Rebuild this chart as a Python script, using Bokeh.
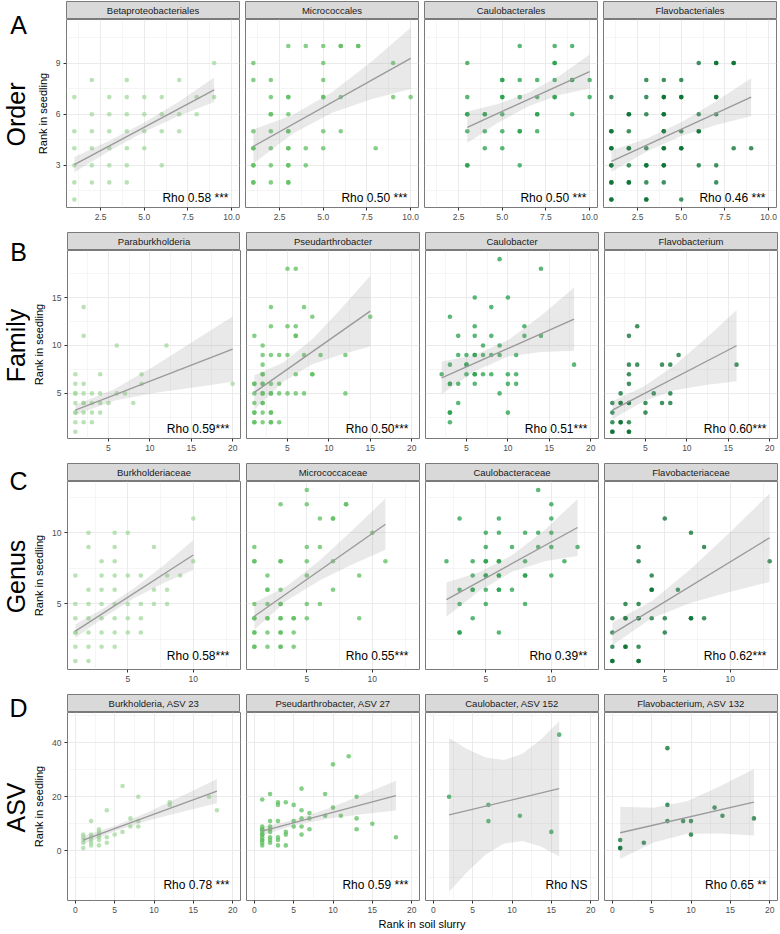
from bokeh.plotting import figure
from bokeh.layouts import row, column
from bokeh.models import ColumnDataSource, Range1d, FixedTicker, Label, NumeralTickFormatter
from bokeh.core.validation import silence
from bokeh.core.validation.warnings import MISSING_RENDERERS
from bokeh.embed import file_html
from bokeh.resources import INLINE
import math

silence(MISSING_RENDERERS, True)

FONT = "Liberation Sans"

# ---------------- data: Order (row A) ----------------
ord_beta_x = [9, 2, 4, 7, 1, 3, 4, 5, 6, 8, 9, 2, 3, 4, 5, 6, 7, 8, 1, 2, 3, 4, 5, 6, 7, 1, 2, 3, 4, 5, 1, 2, 3, 4, 6, 1, 2, 3, 4, 1]
ord_beta_y = [9, 8, 8, 8, 7, 7, 7, 7, 7, 7, 7, 6, 6, 6, 6, 6, 6, 6, 5, 5, 5, 5, 5, 5, 5, 4, 4, 4, 4, 4, 3, 3, 3, 3, 3, 2, 2, 2, 2, 1]
ord_micro_x = [3, 4, 5, 6, 7, 6, 7, 1, 5, 9, 1, 2, 5, 2, 3, 5, 6, 9, 10, 3, 5, 2, 3, 2, 1, 2, 3, 5, 6, 3, 1, 2, 3, 4, 5, 8, 1, 3, 1, 2, 3, 4, 1, 3, 1, 2, 3, 1, 3]
ord_micro_y = [10, 10, 10, 10, 10, 10, 10, 9, 9, 9, 8, 8, 8, 7, 7, 7, 7, 7, 7, 7, 7, 6, 6, 6, 5, 5, 5, 5, 5, 5, 4, 4, 4, 4, 4, 4, 4, 4, 3, 3, 3, 3, 3, 3, 2, 2, 2, 2, 2]
ord_caulo_x = [6, 8, 9, 3, 8, 8, 5, 6, 7, 8, 9, 10, 5, 9, 3, 5, 6, 7, 8, 10, 5, 8, 3, 4, 5, 7, 9, 3, 4, 7, 3, 4, 5, 6, 7, 6, 4, 5, 3, 6, 3]
ord_caulo_y = [10, 10, 10, 9, 9, 9, 8, 8, 8, 8, 8, 8, 8, 8, 7, 7, 7, 7, 7, 7, 7, 7, 6, 6, 6, 6, 6, 6, 6, 6, 5, 5, 5, 5, 5, 5, 4, 4, 3, 3, 3]
ord_flavo_x = [6, 7, 8, 7, 8, 3, 4, 5, 1, 3, 4, 5, 7, 4, 5, 7, 2, 3, 4, 6, 7, 2, 4, 1, 2, 4, 5, 6, 1, 4, 6, 1, 2, 3, 4, 5, 8, 9, 1, 2, 4, 5, 1, 2, 3, 4, 6, 7, 1, 3, 4, 1, 2, 3, 4, 7, 1, 2, 1, 3, 5, 1, 3]
ord_flavo_y = [9, 9, 9, 9, 9, 8, 8, 8, 7, 7, 7, 7, 7, 7, 7, 7, 6, 6, 6, 6, 6, 6, 6, 5, 5, 5, 5, 5, 5, 5, 5, 4, 4, 4, 4, 4, 4, 4, 4, 4, 4, 4, 3, 3, 3, 3, 3, 3, 3, 3, 3, 2, 2, 2, 2, 2, 2, 2, 1, 1, 1, 1, 1]

# ---------------- data: Family (row B) ----------------
fam_para_x = [2, 2, 6, 12, 1, 4, 9, 1, 2, 9, 20, 1, 2, 3, 4, 6, 7, 1, 1, 2, 3, 4, 5, 8, 2, 1, 2, 3, 4, 1, 1, 2, 3, 1]
fam_para_y = [14, 11, 10, 10, 7, 7, 7, 6, 6, 6, 6, 5, 5, 5, 5, 5, 5, 5, 4, 4, 4, 4, 4, 4, 4, 3, 3, 3, 3, 3, 2, 2, 2, 1]
fam_pseud_x = [5, 6, 3, 7, 8, 15, 3, 5, 6, 1, 6, 6, 2, 2, 3, 4, 5, 7, 9, 12, 2, 2, 6, 8, 8, 2, 1, 2, 3, 4, 1, 2, 1, 2, 3, 4, 5, 6, 7, 12, 2, 3, 1, 2, 2, 1, 2, 3, 1, 3, 1, 2, 3, 4, 1, 3]
fam_pseud_y = [18, 18, 14, 14, 13, 13, 12, 12, 12, 11, 11, 11, 10, 9, 9, 9, 9, 9, 9, 9, 8, 7, 7, 7, 7, 7, 6, 6, 6, 6, 6, 6, 5, 5, 5, 5, 5, 5, 5, 5, 5, 5, 4, 4, 4, 3, 3, 3, 3, 3, 2, 2, 2, 2, 2, 2]
fam_caulo_x = [9, 14, 6, 10, 8, 3, 6, 12, 4, 6, 8, 12, 14, 7, 9, 4, 5, 6, 7, 8, 9, 11, 6, 3, 5, 18, 5, 2, 5, 6, 7, 8, 10, 11, 6, 3, 4, 6, 10, 11, 3, 9, 4, 3, 10, 3, 3]
fam_caulo_y = [19, 18, 15, 15, 14, 13, 12, 12, 11, 11, 11, 11, 11, 10, 10, 9, 9, 9, 9, 9, 9, 9, 9, 8, 8, 8, 8, 7, 7, 7, 7, 7, 7, 7, 7, 6, 6, 6, 6, 6, 6, 5, 4, 3, 3, 3, 2]
fam_flavo_x = [4, 3, 9, 3, 4, 7, 8, 16, 3, 3, 2, 6, 8, 1, 2, 3, 5, 7, 8, 2, 3, 1, 5, 1, 2, 3, 2, 1, 3, 1, 3]
fam_flavo_y = [12, 11, 9, 8, 8, 8, 8, 8, 7, 6, 5, 5, 5, 4, 4, 4, 4, 4, 4, 4, 4, 3, 3, 2, 2, 2, 2, 1, 1, 1, 1]

# ---------------- data: Genus (row C) ----------------
gen_burk_x = [10, 2, 4, 5, 2, 4, 7, 3, 4, 10, 1, 3, 4, 5, 6, 8, 9, 2, 3, 4, 7, 8, 1, 2, 3, 4, 5, 6, 7, 8, 1, 2, 3, 4, 5, 6, 1, 2, 3, 4, 5, 6, 1, 1, 2, 3, 4, 1, 2]
gen_burk_y = [11, 10, 10, 10, 9, 9, 9, 8, 8, 8, 7, 7, 7, 7, 7, 7, 7, 6, 6, 6, 6, 6, 5, 5, 5, 5, 5, 5, 5, 5, 4, 4, 4, 4, 4, 4, 3, 3, 3, 3, 3, 3, 3, 2, 2, 2, 2, 1, 1]
gen_micro_x = [5, 3, 5, 8, 8, 6, 7, 7, 10, 1, 5, 6, 1, 3, 5, 7, 11, 1, 3, 2, 5, 9, 2, 3, 7, 2, 1, 2, 3, 5, 6, 3, 1, 2, 3, 4, 5, 9, 1, 2, 3, 4, 1, 2, 3, 4, 1, 3, 1, 2, 3, 4, 1, 3]
gen_micro_y = [13, 12, 12, 12, 12, 11, 11, 11, 10, 9, 9, 9, 8, 8, 8, 8, 8, 8, 8, 7, 7, 7, 6, 6, 6, 6, 5, 5, 5, 5, 5, 5, 4, 4, 4, 4, 4, 4, 4, 4, 4, 4, 3, 3, 3, 3, 3, 3, 2, 2, 2, 2, 2, 2]
gen_caulo_x = [9, 10, 3, 6, 10, 5, 6, 8, 9, 10, 5, 7, 9, 10, 12, 2, 4, 5, 6, 8, 11, 5, 6, 4, 5, 6, 8, 10, 5, 6, 8, 3, 4, 5, 6, 7, 4, 6, 3, 5, 8, 4, 3, 6, 3]
gen_caulo_y = [13, 12, 11, 11, 11, 10, 10, 10, 10, 10, 9, 9, 9, 9, 9, 8, 8, 8, 8, 8, 8, 8, 8, 7, 7, 7, 7, 7, 7, 7, 7, 6, 6, 6, 6, 6, 6, 6, 5, 5, 5, 4, 3, 3, 3]
gen_flavo_x = [5, 7, 3, 8, 3, 13, 4, 4, 6, 4, 2, 3, 1, 2, 3, 4, 5, 7, 8, 2, 3, 7, 1, 5, 1, 2, 3, 2, 1, 3, 1, 3]
gen_flavo_y = [11, 10, 9, 9, 8, 8, 7, 6, 6, 6, 5, 5, 4, 4, 4, 4, 4, 4, 4, 4, 4, 4, 3, 3, 2, 2, 2, 2, 1, 1, 1, 1]

# ---------------- data: ASV (row D) ----------------
asv_burk_x = [1, 1, 1, 1, 1, 2, 2, 2, 2, 2, 2, 3, 3, 3, 3, 3, 3, 4, 4, 4, 5, 6, 6, 7, 7, 8, 8, 8, 12, 12, 17, 18]
asv_burk_y = [1, 3, 4, 5, 6, 2, 3, 4, 5, 6, 11, 2, 4, 5, 6, 7, 8, 3, 5, 15, 6, 7, 24, 9, 12, 9, 11, 20, 17, 18, 20, 15]
asv_pseud_x = [1, 1, 1, 1, 1, 1, 1, 1, 1, 1, 1, 1, 2, 2, 2, 2, 2, 2, 2, 2, 3, 3, 3, 3, 3, 3, 4, 4, 4, 4, 5, 5, 5, 6, 6, 6, 6, 6, 7, 7, 7, 9, 9, 10, 10, 11, 12, 13, 13, 13, 15, 18]
asv_pseud_y = [2, 3, 4, 5, 6, 7, 8, 9, 19, 4, 6, 8, 3, 4, 5, 7, 8, 9, 11, 21, 2, 4, 5, 11, 17, 18, 2, 6, 7, 18, 9, 11, 17, 6, 9, 12, 15, 23, 8, 12, 14, 13, 21, 16, 32, 13, 35, 8, 12, 20, 10, 5]
asv_caulo_x = [2, 7, 7, 11, 15, 16]
asv_caulo_y = [20, 17, 11, 13, 7, 43]
asv_flavo_x = [7, 7, 13, 14, 18, 7, 9, 10, 10, 4, 1, 1, 1]
asv_flavo_y = [38, 17, 16, 13, 12, 11, 11, 11, 6, 3, 4, 1, 1]

# ---------------- fitted lines and confidence bands ----------------
ord_beta_fit_x, ord_beta_fit_y = [1, 9], [3.04, 7.43]
ord_beta_band_x = [1, 3, 5, 7, 9]
ord_beta_band_lo = [2.59, 3.84, 4.97, 5.91, 6.71]
ord_beta_band_hi = [3.49, 4.44, 5.51, 6.75, 8.15]
ord_micro_fit_x, ord_micro_fit_y = [1, 10], [4.11, 9.27]
ord_micro_band_x = [1, 3.25, 5.5, 7.75, 10]
ord_micro_band_lo = [3.11, 4.85, 6.09, 6.88, 7.47]
ord_micro_band_hi = [5.11, 5.95, 7.29, 9.08, 11.07]
ord_caulo_fit_x, ord_caulo_fit_y = [3, 10], [5.23, 8.50]
ord_caulo_band_x = [3, 4.75, 6.5, 8.25, 10]
ord_caulo_band_lo = [4.31, 5.50, 6.46, 7.13, 7.50]
ord_caulo_band_hi = [6.15, 6.60, 7.26, 8.23, 9.50]
ord_flavo_fit_x, ord_flavo_fit_y = [1, 9], [3.24, 7.0]
ord_flavo_band_x = [1, 3, 5, 7, 9]
ord_flavo_band_lo = [2.61, 3.80, 4.72, 5.36, 5.90]
ord_flavo_band_hi = [3.87, 4.56, 5.52, 6.76, 8.10]

fam_para_fit_x, fam_para_fit_y = [1, 20], [3.26, 9.62]
fam_para_band_x = [1, 5.75, 10.5, 15.25, 20]
fam_para_band_lo = [2.74, 4.25, 5.04, 5.63, 6.22]
fam_para_band_hi = [3.78, 5.45, 7.84, 10.43, 13.02]
fam_pseud_fit_x, fam_pseud_fit_y = [1, 15], [5.1, 13.58]
fam_pseud_band_x = [1, 4.5, 8, 11.5, 15]
fam_pseud_band_lo = [3.3, 6.22, 8.04, 9.06, 9.88]
fam_pseud_band_hi = [6.9, 8.22, 10.64, 13.86, 17.28]
fam_caulo_fit_x, fam_caulo_fit_y = [2, 18], [6.63, 12.74]
fam_caulo_band_x = [2, 6, 10, 14, 18]
fam_caulo_band_lo = [4.93, 7.31, 8.84, 9.31, 9.44]
fam_caulo_band_hi = [8.33, 9.01, 10.54, 13.11, 16.04]
fam_flavo_fit_x, fam_flavo_fit_y = [1, 16], [3.26, 9.97]
fam_flavo_band_x = [1, 4.75, 8.5, 12.25, 16]
fam_flavo_band_lo = [2.31, 4.19, 5.32, 5.89, 6.27]
fam_flavo_band_hi = [4.21, 5.69, 7.92, 10.69, 13.67]

gen_burk_fit_x, gen_burk_fit_y = [1, 10], [3.09, 8.44]
gen_burk_band_x = [1, 3.25, 5.5, 7.75, 10]
gen_burk_band_lo = [2.62, 4.11, 5.42, 6.48, 7.39]
gen_burk_band_hi = [3.56, 4.75, 6.12, 7.72, 9.49]
gen_micro_fit_x, gen_micro_fit_y = [1, 11], [4.14, 10.6]
gen_micro_band_x = [1, 3.5, 6, 8.5, 11]
gen_micro_band_lo = [3.19, 5.26, 6.67, 7.79, 8.8]
gen_micro_band_hi = [5.09, 6.26, 8.07, 10.19, 12.4]
gen_caulo_fit_x, gen_caulo_fit_y = [2, 12], [5.3, 10.37]
gen_caulo_band_x = [2, 4.5, 7, 9.5, 12]
gen_caulo_band_lo = [4.1, 5.92, 7.26, 8.0, 8.37]
gen_caulo_band_hi = [6.5, 7.22, 8.42, 10.2, 12.37]
gen_flavo_fit_x, gen_flavo_fit_y = [1, 13], [2.9, 9.65]
gen_flavo_band_x = [1, 4, 7, 10, 13]
gen_flavo_band_lo = [2.1, 3.99, 5.08, 5.86, 6.55]
gen_flavo_band_hi = [3.7, 5.19, 7.48, 10.06, 12.75]

asv_burk_fit_x, asv_burk_fit_y = [1, 18], [3.95, 22.1]
asv_burk_band_x = [1, 5.25, 9.5, 13.75, 18]
asv_burk_band_lo = [2.45, 7.49, 11.42, 14.56, 17.6]
asv_burk_band_hi = [5.45, 9.49, 14.62, 20.56, 26.6]
asv_pseud_fit_x, asv_pseud_fit_y = [1, 18], [7.3, 20.4]
asv_pseud_band_x = [1, 5.25, 9.5, 13.75, 18]
asv_pseud_band_lo = [5.8, 9.58, 11.95, 13.53, 14.9]
asv_pseud_band_hi = [8.8, 11.58, 15.75, 20.73, 25.9]
asv_caulo_fit_x, asv_caulo_fit_y = [2, 16], [13.3, 23.0]
asv_caulo_band_x = [2, 4.33, 6.67, 9, 11.33, 13.67, 16]
asv_caulo_band_lo = [-15.2, -7.8, -1.4, 2.7, 3.6, 1.6, -2.0]
asv_caulo_band_hi = [41.8, 37.6, 34.5, 33.6, 35.9, 41.2, 48.0]
asv_flavo_fit_x, asv_flavo_fit_y = [1, 18], [6.67, 18.0]
asv_flavo_band_x = [1, 5.25, 9.5, 13.75, 18]
asv_flavo_band_lo = [-2.93, 3.1, 6.33, 6.37, 5.7]
asv_flavo_band_hi = [16.27, 15.9, 18.33, 23.97, 30.3]

# ---------------- labels ----------------
row_letters = ["A", "B", "C", "D"]
row_names = ["Order", "Family", "Genus", "ASV"]
strip_titles = [
    ["Betaproteobacteriales", "Micrococcales", "Caulobacterales", "Flavobacteriales"],
    ["Paraburkholderia", "Pseudarthrobacter", "Caulobacter", "Flavobacterium"],
    ["Burkholderiaceae", "Micrococcaceae", "Caulobacteraceae", "Flavobacteriaceae"],
    ["Burkholderia, ASV 23", "Pseudarthrobacter, ASV 27", "Caulobacter, ASV 152", "Flavobacterium, ASV 132"],
]
rho_texts = [
    ["Rho 0.58 ***", "Rho 0.50 ***", "Rho 0.50 ***", "Rho 0.46 ***"],
    ["Rho 0.59***", "Rho 0.50***", "Rho 0.51***", "Rho 0.60***"],
    ["Rho 0.58***", "Rho 0.55***", "Rho 0.39**", "Rho 0.62***"],
    ["Rho 0.78 ***", "Rho 0.59 ***", "Rho NS", "Rho 0.65 **"],
]
# axis ticks per row
x_ticks = [[2.5, 5, 7.5, 10], [5, 10, 15, 20], [5, 10], [0, 5, 10, 15, 20]]
x_minor = [[1.25, 3.75, 6.25, 8.75], [2.5, 7.5, 12.5, 17.5], [2.5, 7.5, 12.5], [2.5, 7.5, 12.5, 17.5]]
y_ticks = [[3, 6, 9], [5, 10, 15], [5, 10], [0, 20, 40]]
y_minor = [[1.5, 4.5, 7.5, 10.5], [2.5, 7.5, 12.5, 17.5], [2.5, 7.5, 12.5], [-10, 10, 30, 50]]
x_ranges = [(0.55, 10.45), (0.05, 20.95), (0.4, 13.6), (-1.0, 21.0)]
y_ranges = [(0.53, 11.55), (0.3, 19.9), (0.4, 13.6), (-18.4, 51.2)]

panels = [
    [(ord_beta_x, ord_beta_y, ord_beta_fit_x, ord_beta_fit_y, ord_beta_band_x, ord_beta_band_lo, ord_beta_band_hi),
     (ord_micro_x, ord_micro_y, ord_micro_fit_x, ord_micro_fit_y, ord_micro_band_x, ord_micro_band_lo, ord_micro_band_hi),
     (ord_caulo_x, ord_caulo_y, ord_caulo_fit_x, ord_caulo_fit_y, ord_caulo_band_x, ord_caulo_band_lo, ord_caulo_band_hi),
     (ord_flavo_x, ord_flavo_y, ord_flavo_fit_x, ord_flavo_fit_y, ord_flavo_band_x, ord_flavo_band_lo, ord_flavo_band_hi)],
    [(fam_para_x, fam_para_y, fam_para_fit_x, fam_para_fit_y, fam_para_band_x, fam_para_band_lo, fam_para_band_hi),
     (fam_pseud_x, fam_pseud_y, fam_pseud_fit_x, fam_pseud_fit_y, fam_pseud_band_x, fam_pseud_band_lo, fam_pseud_band_hi),
     (fam_caulo_x, fam_caulo_y, fam_caulo_fit_x, fam_caulo_fit_y, fam_caulo_band_x, fam_caulo_band_lo, fam_caulo_band_hi),
     (fam_flavo_x, fam_flavo_y, fam_flavo_fit_x, fam_flavo_fit_y, fam_flavo_band_x, fam_flavo_band_lo, fam_flavo_band_hi)],
    [(gen_burk_x, gen_burk_y, gen_burk_fit_x, gen_burk_fit_y, gen_burk_band_x, gen_burk_band_lo, gen_burk_band_hi),
     (gen_micro_x, gen_micro_y, gen_micro_fit_x, gen_micro_fit_y, gen_micro_band_x, gen_micro_band_lo, gen_micro_band_hi),
     (gen_caulo_x, gen_caulo_y, gen_caulo_fit_x, gen_caulo_fit_y, gen_caulo_band_x, gen_caulo_band_lo, gen_caulo_band_hi),
     (gen_flavo_x, gen_flavo_y, gen_flavo_fit_x, gen_flavo_fit_y, gen_flavo_band_x, gen_flavo_band_lo, gen_flavo_band_hi)],
    [(asv_burk_x, asv_burk_y, asv_burk_fit_x, asv_burk_fit_y, asv_burk_band_x, asv_burk_band_lo, asv_burk_band_hi),
     (asv_pseud_x, asv_pseud_y, asv_pseud_fit_x, asv_pseud_fit_y, asv_pseud_band_x, asv_pseud_band_lo, asv_pseud_band_hi),
     (asv_caulo_x, asv_caulo_y, asv_caulo_fit_x, asv_caulo_fit_y, asv_caulo_band_x, asv_caulo_band_lo, asv_caulo_band_hi),
     (asv_flavo_x, asv_flavo_y, asv_flavo_fit_x, asv_flavo_fit_y, asv_flavo_band_x, asv_flavo_band_lo, asv_flavo_band_hi)],
]

# ---------------- styles / geometry ----------------
COLORS = ["#a1d99b", "#5cbf5e", "#23a04a", "#006d2c"]
FW, FH, SH = 173, 188, 18
LABW, LB, GAP = 30, 36, 5
BB = [24, 24, 24, 16]
BORDER = "#7a7a7a"
RHO_DY = [10, 10, 14, 16]
RHO_DX = 11
LETTER_TOP = [24, 20, 18, 14]
NAME_TOP = 114


def style_axis(ax):
    ax.axis_line_color = None
    ax.major_tick_line_color = "#333333"
    ax.major_tick_out = 3
    ax.major_tick_in = 0
    ax.minor_tick_line_color = None
    ax.major_label_text_font = FONT
    ax.major_label_text_font_size = "8.5px"
    ax.major_label_text_color = "#4d4d4d"
    ax.major_label_standoff = 2


def make_strip(r, c):
    s = figure(frame_width=FW, frame_height=SH, x_range=Range1d(0, 1), y_range=Range1d(0, 1),
               output_backend="svg", toolbar_location=None, tools="",
               x_axis_location=None, y_axis_location=None,
               min_border_left=LB if c == 0 else GAP, min_border_right=1,
               min_border_top=1, min_border_bottom=0,
               background_fill_color="#d9d9d9", border_fill_color="white",
               outline_line_color=BORDER, outline_line_width=1)
    s.grid.visible = False
    s.add_layout(Label(x=0.5, y=0.5, text=strip_titles[r][c], text_align="center",
                       text_baseline="middle", text_font=FONT, text_font_size="9.5px",
                       text_color="#1a1a1a"))
    return s


def make_panel(r, c):
    xs, ys, fx, fy, bx, blo, bhi = panels[r][c]
    first = c == 0
    xr, yr = x_ranges[r], y_ranges[r]
    p = figure(frame_width=FW, frame_height=FH, x_range=Range1d(*xr), y_range=Range1d(*yr),
               output_backend="svg", toolbar_location=None, tools="",
               x_axis_location="below", y_axis_location="left" if first else None,
               min_border_left=LB if first else GAP, min_border_right=1,
               min_border_top=0, min_border_bottom=BB[r],
               background_fill_color="white", border_fill_color="white",
               outline_line_color=BORDER, outline_line_width=1)
    xt = FixedTicker(ticks=x_ticks[r], minor_ticks=x_minor[r])
    yt = FixedTicker(ticks=y_ticks[r], minor_ticks=y_minor[r])
    p.xaxis.ticker = xt
    p.xgrid.ticker = xt
    p.ygrid.ticker = yt
    style_axis(p.xaxis[0])
    if r == 0:
        p.xaxis.formatter = NumeralTickFormatter(format="0.0")
    if first:
        p.yaxis.ticker = yt
        style_axis(p.yaxis[0])
        p.yaxis.axis_label = "Rank in seedling"
        p.yaxis.axis_label_text_font = FONT
        p.yaxis.axis_label_text_font_size = "11px"
        p.yaxis.axis_label_text_font_style = "normal"
        p.yaxis.axis_label_text_color = "#000000"
        p.yaxis.axis_label_standoff = 4
    p.grid.grid_line_color = "#ebebeb"
    p.grid.grid_line_width = 1
    p.grid.minor_grid_line_color = "#ebebeb"
    p.grid.minor_grid_line_width = 0.5

    src = ColumnDataSource(dict(x=xs, y=ys))
    p.scatter("x", "y", source=src, size=4.6, fill_color=COLORS[c], fill_alpha=0.75, line_color=None)
    p.varea(x=bx, y1=blo, y2=bhi, fill_color="#999999", fill_alpha=0.22)
    p.line(x=fx, y=fy, line_color="#9a9a9a", line_width=1.4)

    rx = xr[1] - RHO_DX / FW * (xr[1] - xr[0])
    ry = yr[0] + RHO_DY[r] / FH * (yr[1] - yr[0])
    p.add_layout(Label(x=rx, y=ry, text=rho_texts[r][c], text_align="right", text_baseline="middle",
                       text_font=FONT, text_font_size="12px", text_color="#000000"))
    return p


def make_rowlabel(r):
    H = SH + 1 + FH + BB[r]
    f = figure(frame_width=LABW, frame_height=H, x_range=Range1d(0, LABW), y_range=Range1d(0, H),
               output_backend="svg", toolbar_location=None, tools="",
               x_axis_location=None, y_axis_location=None, min_border=0,
               outline_line_color=None, background_fill_color="white", border_fill_color="white")
    f.grid.visible = False
    f.add_layout(Label(x=18, y=H - LETTER_TOP[r], text=row_letters[r], text_align="center",
                       text_baseline="middle", text_font=FONT, text_font_size="25px", text_color="#000000"))
    f.add_layout(Label(x=15.5, y=H - NAME_TOP, text=row_names[r], text_align="center",
                       text_baseline="middle", angle=math.pi / 2, text_font=FONT,
                       text_font_size="25px", text_color="#000000"))
    return f


rows = []
for r in range(4):
    items = [make_rowlabel(r)]
    for c in range(4):
        items.append(column(make_strip(r, c), make_panel(r, c), spacing=0))
    rows.append(row(*items, spacing=0))

TOTAL_W = LABW + LB + FW + 1 + 3 * (GAP + FW + 1)
xt_fig = figure(frame_width=TOTAL_W, frame_height=14, x_range=Range1d(0, TOTAL_W), y_range=Range1d(0, 14),
                output_backend="svg", toolbar_location=None, tools="",
                x_axis_location=None, y_axis_location=None, min_border=0,
                outline_line_color=None, background_fill_color="white", border_fill_color="white")
xt_fig.grid.visible = False
xt_fig.add_layout(Label(x=(LABW + LB + TOTAL_W) / 2, y=7, text="Rank in soil slurry", text_align="center",
                        text_baseline="middle", text_font=FONT, text_font_size="11px", text_color="#000000"))
rows.append(xt_fig)

layout = column(*rows, spacing=0)

with open("out.html", "w") as fh:
    fh.write(file_html(layout, INLINE))
